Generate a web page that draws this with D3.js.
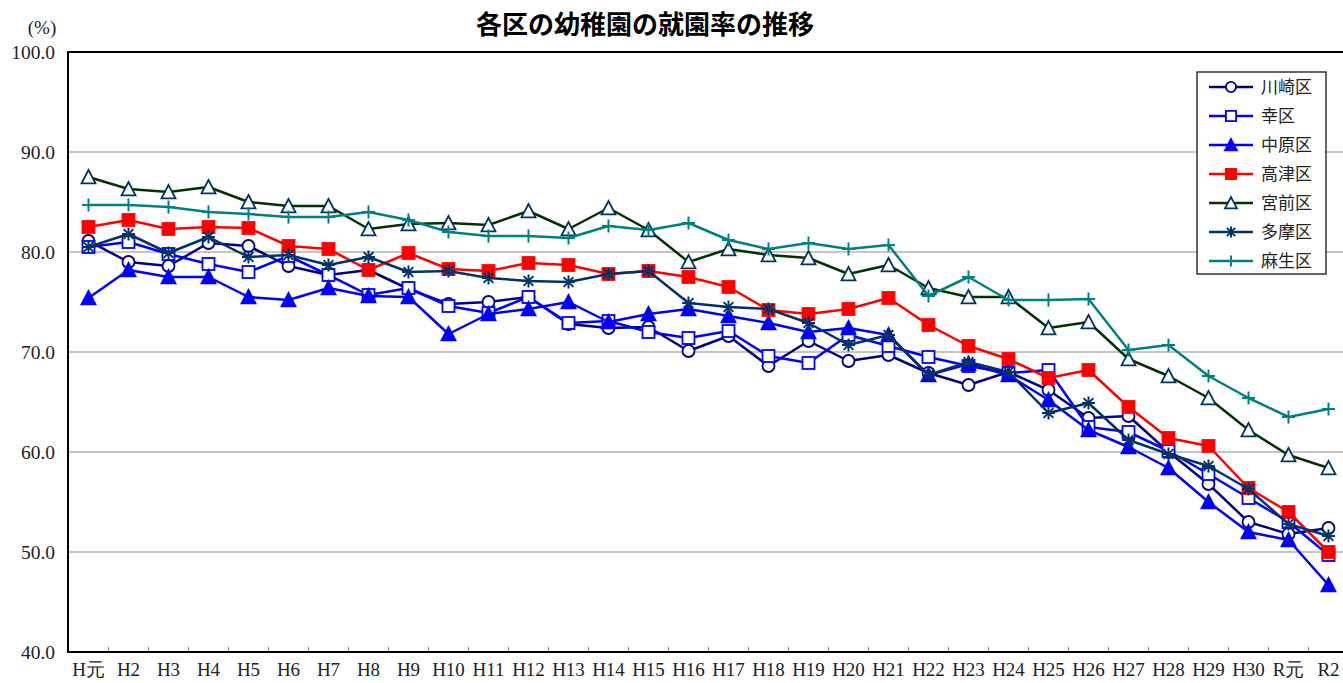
<!DOCTYPE html>
<html><head><meta charset="utf-8">
<script src="https://cdn.jsdelivr.net/npm/d3@7/dist/d3.min.js"></script>
<style>
body{margin:0;background:#fff;}
svg{display:block;}
</style></head>
<body>
<svg id="chart" width="1343" height="683"></svg>
<script>
const categories = ["H元","H2","H3","H4","H5","H6","H7","H8","H9","H10","H11","H12","H13","H14","H15","H16","H17","H18","H19","H20","H21","H22","H23","H24","H25","H26","H27","H28","H29","H30","R元","R2"];
const yTicks = [40,50,60,70,80,90,100];
const seriesNames = ["川崎区","幸区","中原区","高津区","宮前区","多摩区","麻生区"];
const kawasaki = [81.1,79.0,78.6,80.9,80.6,78.6,77.7,78.2,76.3,74.8,75.0,75.5,72.8,72.4,72.5,70.1,71.6,68.6,71.1,69.1,69.7,67.9,66.7,68.0,66.2,63.4,63.6,60.0,56.8,53.0,51.8,52.4];
const saiwai = [80.5,81.0,79.8,78.8,78.0,79.6,77.7,75.7,76.4,74.6,73.9,75.5,72.9,73.1,72.0,71.4,72.1,69.6,68.9,71.7,70.6,69.5,68.6,67.9,68.2,62.5,62.0,60.1,57.8,55.4,53.0,49.7];
const nakahara = [75.4,78.2,77.5,77.5,75.5,75.2,76.4,75.6,75.5,71.8,73.8,74.3,75.0,73.0,73.8,74.3,73.6,72.9,72.0,72.4,71.7,67.7,68.8,67.7,65.2,62.2,60.5,58.4,55.0,52.0,51.2,46.7];
const takatsu = [82.5,83.2,82.3,82.5,82.4,80.6,80.3,78.2,79.9,78.3,78.1,78.9,78.7,77.8,78.1,77.5,76.5,74.2,73.8,74.3,75.4,72.7,70.6,69.3,67.4,68.2,64.5,61.4,60.6,56.4,54.0,50.0];
const miyamae = [87.5,86.3,86.0,86.5,85.0,84.6,84.6,82.3,82.8,82.9,82.7,84.1,82.3,84.4,82.2,79.0,80.3,79.7,79.4,77.8,78.7,76.4,75.5,75.5,72.4,73.0,69.3,67.6,65.4,62.2,59.7,58.4];
const tama = [80.5,81.8,79.9,81.5,79.5,79.7,78.7,79.5,78.0,78.1,77.4,77.1,77.0,77.8,78.1,74.9,74.5,74.3,72.9,70.7,71.7,67.7,69.0,68.0,63.9,64.9,61.2,59.8,58.6,56.3,52.8,51.6];
const asao = [84.7,84.7,84.5,84.0,83.8,83.5,83.5,84.0,83.2,82.0,81.6,81.6,81.4,82.6,82.2,82.9,81.2,80.3,80.9,80.3,80.7,75.6,77.5,75.2,75.2,75.3,70.2,70.7,67.6,65.4,63.5,64.3];

const seriesValues = [kawasaki,saiwai,nakahara,takatsu,miyamae,tama,asao];
const styles = [
  {line:"#000080", marker:"circle", stroke:"#000080", fill:"#fff"},
  {line:"#0000ff", marker:"square", stroke:"#0000ff", fill:"#fff"},
  {line:"#0000ff", marker:"triangle", stroke:"#0000ff", fill:"#0000ff"},
  {line:"#ff0000", marker:"square", stroke:"#ff0000", fill:"#ff0000"},
  {line:"#003300", marker:"triangle", stroke:"#003366", fill:"#fff"},
  {line:"#003366", marker:"star", stroke:"#003366", fill:"none"},
  {line:"#008080", marker:"plus", stroke:"#008080", fill:"none"}
];

const svg = d3.select("#chart");
const plotLeft = 68, plotTop = 52, plotBottom = 652;
const x = d3.scaleBand().domain(categories).range([plotLeft+0.5, plotLeft+0.5+categories.length*40]).padding(0);
const y = d3.scaleLinear().domain([40,100]).range([plotBottom, plotTop]);
const cx = c => x(c) + x.bandwidth()/2;

const serif = "'Liberation Serif','Times New Roman',serif";
const cjk = "'Noto Sans CJK JP',sans-serif";

// title
svg.append("text").attr("x", 645).attr("y", 34).attr("text-anchor","middle")
  .attr("font-family", cjk).attr("font-weight","bold").attr("font-size", 26).attr("fill","#000")
  .text("各区の幼稚園の就園率の推移");

// gridlines
svg.append("g").selectAll("line").data(yTicks.filter(t => t>40 && t<100)).join("line")
  .attr("x1", plotLeft).attr("x2", 1343).attr("y1", d=>y(d)).attr("y2", d=>y(d))
  .attr("stroke", "#8c8c8c").attr("stroke-width", 1.2);

// category boundary ticks (inside)
svg.append("g").selectAll("line").data(categories.slice(1)).join("line")
  .attr("x1", d=>x(d)).attr("x2", d=>x(d)).attr("y1", plotBottom-5).attr("y2", plotBottom)
  .attr("stroke", "#888").attr("stroke-width", 1);

// frame
svg.append("line").attr("x1", plotLeft).attr("x2", 1343).attr("y1", plotTop).attr("y2", plotTop).attr("stroke","#000").attr("stroke-width",2);
svg.append("line").attr("x1", plotLeft).attr("x2", 1343).attr("y1", plotBottom).attr("y2", plotBottom).attr("stroke","#000").attr("stroke-width",2);
svg.append("line").attr("x1", plotLeft).attr("x2", plotLeft).attr("y1", plotTop-1).attr("y2", plotBottom+1).attr("stroke","#000").attr("stroke-width",2);

// y axis labels
const yAxis = d3.axisLeft(y).tickValues(yTicks).tickFormat(d3.format(".1f")).tickSize(0).tickPadding(13);
const gy = svg.append("g").attr("transform", `translate(${plotLeft},0)`).call(yAxis);
gy.select(".domain").remove();
gy.selectAll("text").attr("font-family", serif).attr("font-size", 19.5).attr("fill","#222");

svg.append("text").attr("x", 42).attr("y", 34).attr("text-anchor","middle")
  .attr("font-family", serif).attr("font-size", 19).attr("fill","#222").text("(%)");

// x axis labels
const xAxis = d3.axisBottom(x).tickSize(0).tickPadding(11);
const gx = svg.append("g").attr("transform", `translate(0,${plotBottom})`).call(xAxis);
gx.select(".domain").remove();
gx.selectAll("text").attr("font-family", serif).attr("font-size", 19).attr("fill","#222");

// markers
function drawMarker(g, type, st, px, py, scale) {
  const s = scale || 1;
  if (type === "circle") {
    g.append("circle").attr("cx",px).attr("cy",py).attr("r",6*s).attr("fill",st.fill).attr("stroke",st.stroke).attr("stroke-width",1.8);
  } else if (type === "square") {
    const h = 6*s;
    g.append("rect").attr("x",px-h).attr("y",py-h).attr("width",2*h).attr("height",2*h).attr("fill",st.fill).attr("stroke",st.stroke).attr("stroke-width",1.8);
  } else if (type === "triangle") {
    const h = 7*s;
    g.append("path").attr("d",`M${px},${py-h}L${px+h},${py+h*0.9}L${px-h},${py+h*0.9}Z`).attr("fill",st.fill).attr("stroke",st.stroke).attr("stroke-width",1.8).attr("stroke-linejoin","miter");
  } else if (type === "star") {
    const h = 6.5*s;
    const p = `M${px-h},${py}L${px+h},${py}M${px},${py-h}L${px},${py+h}M${px-h*0.75},${py-h*0.75}L${px+h*0.75},${py+h*0.75}M${px-h*0.75},${py+h*0.75}L${px+h*0.75},${py-h*0.75}`;
    g.append("path").attr("d",p).attr("stroke",st.stroke).attr("stroke-width",2).attr("fill","none");
  } else if (type === "plus") {
    const h = 6.5*s;
    g.append("path").attr("d",`M${px-h},${py}L${px+h},${py}M${px},${py-h}L${px},${py+h}`).attr("stroke",st.stroke).attr("stroke-width",2).attr("fill","none");
  }
}

const line = d3.line().x((d,i)=>cx(categories[i])).y(d=>y(d));
seriesValues.forEach((vals, k) => {
  const st = styles[k];
  const g = svg.append("g");
  g.append("path").datum(vals).attr("d", line).attr("fill","none").attr("stroke", st.line).attr("stroke-width", 2.5).attr("stroke-linejoin","round");
  vals.forEach((v,i) => drawMarker(g, st.marker, st, cx(categories[i]), y(v)));
});

// legend
const lg = svg.append("g");
lg.append("rect").attr("x",1197).attr("y",72).attr("width",129).attr("height",202).attr("fill","#fff").attr("stroke","#000").attr("stroke-width",1.2);
seriesNames.forEach((n,k) => {
  const ly = 87 + k*29;
  const st = styles[k];
  lg.append("line").attr("x1",1209).attr("x2",1253).attr("y1",ly).attr("y2",ly).attr("stroke",st.line).attr("stroke-width",2.5);
  drawMarker(lg, st.marker, st, 1231, ly, 0.85);
  lg.append("text").attr("x",1261).attr("y",ly+6).attr("font-family",cjk).attr("font-size",17).attr("fill","#222").text(n);
});
</script>
</body></html>
